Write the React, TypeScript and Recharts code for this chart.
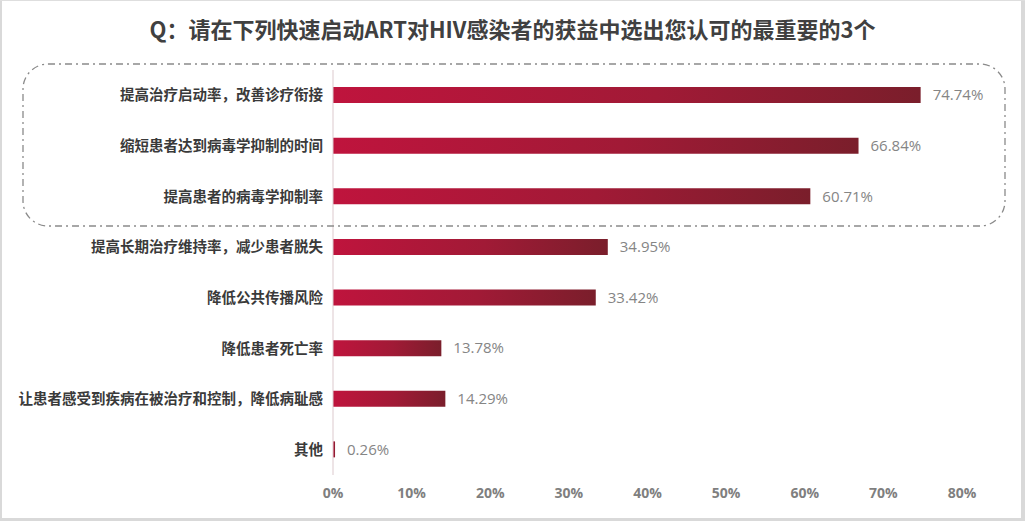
import React from 'react';
import { BarChart, Bar, XAxis, YAxis, LabelList } from 'recharts';

const categories = [
  '提高治疗启动率，改善诊疗衔接',
  '缩短患者达到病毒学抑制的时间',
  '提高患者的病毒学抑制率',
  '提高长期治疗维持率，减少患者脱失',
  '降低公共传播风险',
  '降低患者死亡率',
  '让患者感受到疾病在被治疗和控制，降低病耻感',
  '其他',
];
const values = [74.74, 66.84, 60.71, 34.95, 33.42, 13.78, 14.29, 0.26];
const xTicks = [0, 10, 20, 30, 40, 50, 60, 70, 80];
const title = 'Q：请在下列快速启动ART对HIV感染者的获益中选出您认可的最重要的3个';

const data = categories.map((name, i) => ({ name, value: values[i] }));

const CJK = '"Noto Sans CJK SC", "Noto Sans", sans-serif';

export default function App() {
  return (
    <div style={{ position: 'absolute', left: 0, top: 0, width: 1025, height: 521, background: '#fff', overflow: 'hidden' }}>
      <div
        style={{
          position: 'absolute', left: 0, top: 16, width: 1025, textAlign: 'center',
          fontFamily: CJK, fontWeight: 700, fontSize: 22, lineHeight: '24px', color: '#404040',
        }}
      >
        {title}
      </div>
      <div style={{ position: 'absolute', left: 0, top: 0 }}>
        <BarChart
          width={1025}
          height={521}
          data={data}
          layout="vertical"
          margin={{ top: 70, right: 63, bottom: 16, left: 0 }}
        >
          <defs>
            <linearGradient id="barGrad" x1="0" y1="0" x2="1" y2="0">
              <stop offset="0%" stopColor="#bf143d" />
              <stop offset="55%" stopColor="#a11a36" />
              <stop offset="100%" stopColor="#7a1e2b" />
            </linearGradient>
          </defs>
          <XAxis
            type="number"
            domain={[0, 80]}
            ticks={xTicks}
            tickFormatter={(v: number) => `${v}%`}
            axisLine={false}
            tickLine={false}
            tickSize={0}
            tickMargin={13}
            height={30}
            interval={0}
            tick={{ fill: '#7f7f7f', fontSize: 14, fontWeight: 700, fontFamily: '"Open Sans", "Noto Sans", sans-serif' }}
          />
          <YAxis
            type="category"
            dataKey="name"
            width={333}
            axisLine={{ stroke: '#dcc9cd', strokeWidth: 1 }}
            tickLine={false}
            tickSize={0}
            tickMargin={10}
            interval={0}
            tick={{ fill: '#3a3a3a', fontSize: 14.5, fontWeight: 700, fontFamily: CJK }}
          />
          <Bar dataKey="value" barSize={16} fill="url(#barGrad)" isAnimationActive={false}>
            <LabelList
              dataKey="value"
              position="right"
              offset={12}
              formatter={(v: number) => `${v.toFixed(2)}%`}
              style={{ fill: '#858585', fontSize: 15, fontFamily: '"Open Sans", "Noto Sans", sans-serif', fontWeight: 400 }}
            />
          </Bar>
        </BarChart>
      </div>
      <svg width={1025} height={521} style={{ position: 'absolute', left: 0, top: 0, pointerEvents: 'none' }}>
        <rect
          x={23}
          y={64}
          width={982}
          height={162}
          rx={25}
          ry={25}
          fill="none"
          stroke="#8a8a8a"
          strokeWidth={1.3}
          strokeDasharray="7 4 2 4"
        />
        <rect x={0} y={0} width={2} height={521} fill="#d9d9d9" />
        <rect x={1021} y={0} width={4} height={521} fill="#d9d9d9" />
        <rect x={0} y={518} width={1025} height={3} fill="#d9d9d9" />
        <rect x={0} y={0} width={1025} height={1} fill="#dedede" />
      </svg>
    </div>
  );
}
